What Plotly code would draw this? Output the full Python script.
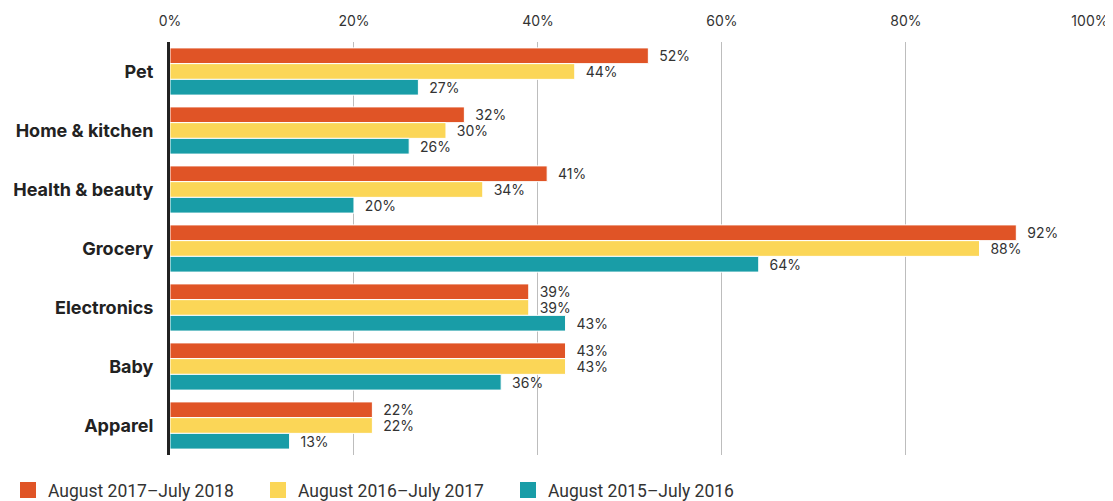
import plotly.graph_objects as go

categories = ["Pet", "Home & kitchen", "Health & beauty", "Grocery", "Electronics", "Baby", "Apparel"]
series_names = ["August 2017–July 2018", "August 2016–July 2017", "August 2015–July 2016"]
values_2018 = [52, 32, 41, 92, 39, 43, 22]
values_2017 = [44, 30, 34, 88, 39, 43, 22]
values_2016 = [27, 26, 20, 64, 43, 36, 13]
colors = ["#E05426", "#FBD657", "#199DA7"]
x_ticks = [0, 20, 40, 60, 80, 100]
x_tick_labels = ["0%", "20%", "40%", "60%", "80%", "100%"]

fig = go.Figure()
for name, vals, col in zip(series_names, [values_2018, values_2017, values_2016], colors):
    fig.add_trace(go.Bar(
        y=categories, x=vals, orientation="h", name=name,
        marker=dict(color=col, line=dict(color="white", width=1)),
        text=[f"\u00a0\u00a0{v}%" for v in vals], textposition="outside",
        constraintext="none",
        textfont=dict(family="Inter", size=14, color="#333333"),
        cliponaxis=False, showlegend=False,
    ))
    fig.add_trace(go.Scatter(
        x=[None], y=[None], mode="markers", name=name,
        marker=dict(symbol="square", size=16, color=col), showlegend=True,
    ))

# page body has an 8px margin, so the figure is 8px smaller and margins shifted
fig.update_layout(
    width=1105, height=493,
    margin=dict(l=162, r=23, t=34, b=46, autoexpand=False),
    barmode="group", bargap=0.2, bargroupgap=0,
    plot_bgcolor="white", paper_bgcolor="white",
    font=dict(family="Inter", color="#333333"),
    xaxis=dict(
        range=[0, 100.01], side="top", tickvals=x_ticks, ticktext=x_tick_labels,
        showgrid=True, gridcolor="#BDBDBD", gridwidth=1,
        zeroline=False, showline=False, ticks="", ticklabelstandoff=12,
        ticklabeloverflow="allow",
        tickfont=dict(family="Inter", size=14, color="#333333"),
    ),
    yaxis=dict(
        autorange="reversed", showgrid=False, ticks="", ticklabelstandoff=10,
        showline=True, linecolor="#222222", linewidth=3, layer="above traces",
        tickfont=dict(family="Inter", size=18, color="#222222", weight="bold"),
    ),
    legend=dict(
        orientation="h", xref="container", yref="paper",
        x=0, y=-0.085, xanchor="left", yanchor="middle",
        entrywidth=205, entrywidthmode="pixels",
        font=dict(family="Roboto", size=17.5, color="#333333"),
        itemsizing="trace", itemwidth=30,
    ),
)

fig.write_html("out.html")
